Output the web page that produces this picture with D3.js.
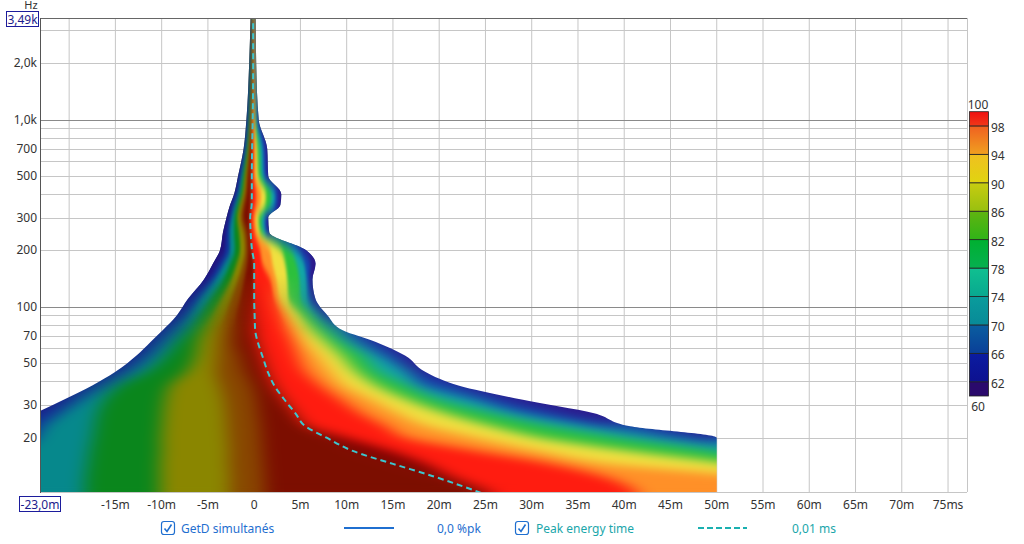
<!DOCTYPE html>
<html>
<head>
<meta charset="utf-8">
<script src="https://cdn.jsdelivr.net/npm/d3@7"></script>
<style>
  body { margin: 0; background: #fff; }
  svg { display: block; font-family: "Noto Sans", "DejaVu Sans", sans-serif; }
</style>
</head>
<body>
<div id="chart"></div>
<script>

// rows of the spectrogram (Hz), top to bottom
var freqs = [3700, 2000, 1000, 700, 500, 400, 350, 300, 250, 200, 170, 140, 110, 90, 75, 65, 55, 45, 38, 32, 27, 23, 20, 17, 14.5, 12.5, 10];

// peak energy time per row (ms)
var peakTime = [-0.11, -0.11, -0.16, -0.22, -0.25, -0.25, -0.27, -0.43, -0.38, -0.22, 0, 0, 0, 0.05, 0.11, 0.38, 0.87, 1.47, 2.17, 3.26, 4.46, 5.54, 7.83, 10.65, 15.0, 19.24, 24.89];

// times (ms) where each colour band starts, on the early side of the peak
var leftPurple = [-0.38, -0.54, -0.84, -1.14, -1.74, -2.17, -2.61, -2.99, -3.37, -3.70, -4.46, -5.43, -7.17, -8.37, -9.89, -11.2, -12.72, -15.0, -17.5, -20.54, -23.7, -27.07, -29.78, -33.04, -36.3, -39.0, -42.28];
var leftBlue   = [-0.33, -0.48, -0.74, -1.03, -1.58, -1.96, -2.37, -2.72, -3.04, -3.15, -3.91, -4.89, -6.63, -7.83, -9.35, -10.65, -12.17, -14.46, -16.96, -19.89, -22.83, -25.87, -28.15, -30.87, -33.59, -36.3, -39.57];
var leftTeal   = [-0.29, -0.41, -0.65, -0.91, -1.41, -1.74, -2.12, -2.45, -2.66, -2.61, -3.26, -4.24, -5.87, -7.07, -8.48, -9.78, -11.2, -13.48, -16.09, -18.7, -20.87, -22.72, -23.48, -25.43, -27.07, -28.7, -30.87];
var leftGreen  = [-0.26, -0.35, -0.55, -0.79, -1.22, -1.5, -1.85, -2.14, -2.17, -2.07, -2.61, -3.37, -4.78, -5.98, -7.17, -8.37, -9.57, -11.63, -14.57, -16.2, -16.96, -17.28, -17.5, -17.83, -18.04, -18.26, -18.37];
var leftYellow = [-0.22, -0.28, -0.46, -0.67, -1.03, -1.26, -1.58, -1.84, -1.63, -1.52, -1.9, -2.5, -3.59, -4.57, -5.54, -6.09, -6.41, -7.39, -9.13, -9.67, -9.89, -10.0, -10.11, -10.11, -10.22, -10.22, -10.22];
var leftOrange = [-0.18, -0.23, -0.37, -0.54, -0.84, -1.02, -1.3, -1.52, -1.14, -0.98, -1.25, -1.74, -2.5, -3.15, -3.7, -3.91, -4.02, -4.13, -3.7, -3.26, -3.04, -2.93, -2.83, -2.72, -2.72, -2.61, -2.61];
var leftRed    = [-0.15, -0.17, -0.28, -0.41, -0.65, -0.79, -1.03, -1.2, -0.76, -0.65, -0.76, -1.09, -1.52, -1.96, -2.07, -2.07, -1.52, -0.98, -0.22, 0.22, 0.43, 0.65, 0.76, 0.87, 0.98, 1.09, 1.2];

// times (ms) where each colour band ends, on the late side of the peak
var rightMaroon = [-0.11, -0.11, -0.16, -0.22, -0.25, -0.25, -0.27, -0.43, -0.38, -0.22, 0, 0, 0, 0.05, 0.11, 0.38, 0.87, 1.47, 2.17, 3.26, 4.46, 5.87, 9.89, 14.78, 18.6, 21.2, 26.4];
var rightRed    = [-0.07, -0.05, -0.08, -0.05, -0.05, 0.22, 0.16, -0.11, 0, 0.65, 0.87, 1.74, 2.17, 2.93, 3.59, 4.13, 4.67, 5.54, 7.17, 9.35, 11.52, 14.24, 16.41, 24.02, 32.17, 37.61, 41.96];
var rightOrange = [-0.02, 0, 0, 0.11, 0.16, 0.76, 0.65, 0.16, 0.33, 1.74, 1.96, 2.39, 2.72, 3.7, 4.67, 5.54, 6.85, 8.26, 9.67, 12.61, 15.43, 18.7, 23.91, 30.65, 38.37, 52.28, 59.35];
var rightYellow = [0.01, 0.04, 0.09, 0.33, 0.43, 1.3, 1.2, 0.43, 0.6, 2.93, 3.37, 3.59, 3.7, 5.0, 6.3, 7.72, 9.35, 10.98, 13.15, 16.52, 20.65, 25.65, 30.87, 40.54, 51.74, 59.35, 61.52];
var rightGreen  = [0.04, 0.09, 0.17, 0.6, 0.76, 1.85, 1.74, 0.76, 0.92, 3.91, 4.57, 4.89, 5.0, 6.3, 7.93, 9.57, 11.74, 13.37, 16.41, 19.89, 25.54, 31.96, 39.35, 49.46, 57.17, 61.52, 63.7];
var rightTeal   = [0.08, 0.13, 0.28, 0.92, 1.03, 2.28, 2.17, 1.09, 1.2, 4.57, 5.43, 5.65, 5.76, 6.96, 8.8, 10.98, 13.7, 16.52, 18.26, 23.7, 28.91, 36.63, 44.46, 55.0, 59.35, 63.7, 65.87];
var rightBlue   = [0.11, 0.17, 0.37, 1.2, 1.3, 2.61, 2.5, 1.3, 1.41, 5.11, 6.09, 5.98, 6.2, 7.39, 9.24, 12.17, 15.11, 17.28, 20.87, 26.2, 32.5, 39.57, 47.93, 57.17, 61.52, 65.87, 68.04];
var rightPurple = [0.16, 0.22, 0.49, 1.41, 1.52, 2.93, 2.83, 1.52, 1.63, 5.65, 6.63, 6.3, 6.63, 7.93, 9.57, 13.15, 16.3, 18.48, 22.07, 28.91, 36.74, 40.65, 50, 50, 50, 50, 50];

// band colours: before the peak (darker) and after it
var earlyColors = ['#22127c', '#12329a', '#06888c', '#0a861c', '#8a8600', '#884600', '#7c0e00', '#7c0000'];
var lateColors  = ['#2c1a8c', '#1446b0', '#12a6a6', '#2cc03c', '#f0e040', '#ff9028', '#ff1c10', '#7c0000'];

// axes
var xGrid = [-20, -15, -10, -5, 0, 5, 10, 15, 20, 25, 30, 35, 40, 45, 50, 55, 60, 65, 70, 75];
var xTicks = [-15, -10, -5, 0, 5, 10, 15, 20, 25, 30, 35, 40, 45, 50, 55, 60, 65, 70, 75];
var xTickLabels = ['-15m', '-10m', '-5m', '0', '5m', '10m', '15m', '20m', '25m', '30m', '35m', '40m', '45m', '50m', '55m', '60m', '65m', '70m', '75ms'];
var yGrid = [20, 30, 40, 50, 60, 70, 80, 90, 100, 200, 300, 400, 500, 600, 700, 800, 900, 1000, 2000, 3000];
var yTicks = [20, 30, 50, 70, 100, 200, 300, 500, 700, 1000, 2000];
var yTickLabels = ['20', '30', '50', '70', '100', '200', '300', '500', '700', '1,0k', '2,0k'];

// colour scale legend
var scaleLevels = [60, 62, 66, 70, 74, 78, 82, 86, 90, 94, 98, 100];
var scaleLow  = ['#2a0a6c', '#0d1190', '#0a3f98', '#088a98', '#08a890', '#06b050', '#30b418', '#98c010', '#e0d410', '#f0a020', '#f03818'];
var scaleHigh = ['#2a0a6c', '#0b1ca0', '#0a5ea0', '#0a9c9c', '#10c090', '#00b030', '#60b410', '#c8cc10', '#f0c020', '#f06020', '#f01010'];
var scaleTicks = [98, 94, 90, 86, 82, 78, 74, 70, 66, 62];

var svg = d3.select('#chart').append('svg').attr('width', 1024).attr('height', 544);

var x = d3.scaleLinear().domain([-23.15, 77.05]).range([40, 967]);
var y = d3.scaleLog().domain([10.26, 3490]).range([492, 18]);

var defs = svg.append('defs');

function band( lo, hi ) {
    return d3.area().curve(d3.curveMonotoneY)
        .y(function(d, i) { return y(freqs[i]); })
        .x0(function(d, i) { return typeof lo === 'number' ? x(lo) : x(lo[i]); })
        .x1(function(d, i) { return typeof hi === 'number' ? x(hi) : x(hi[i]); })(freqs);
}

defs.append('clipPath').attr('id', 'plot')
    .append('rect').attr('x', 40).attr('y', 18).attr('width', 927).attr('height', 474);
defs.append('clipPath').attr('id', 'outline')
    .append('path').attr('d', band(leftPurple, rightPurple));
defs.append('clipPath').attr('id', 'early')
    .append('path').attr('d', band(-80, peakTime));
defs.append('clipPath').attr('id', 'late')
    .append('path').attr('d', band(peakTime, 120));

function softFilter( id, dev ) {
    var f = defs.append('filter').attr('id', id)
        .attr('filterUnits', 'userSpaceOnUse')
        .attr('x', 0).attr('y', 0).attr('width', 1024).attr('height', 544)
        .attr('color-interpolation-filters', 'sRGB');
    f.append('feGaussianBlur').attr('stdDeviation', dev);
    f.append('feComponentTransfer').append('feFuncA').attr('type', 'linear').attr('slope', 40).attr('intercept', 0);
}
softFilter('softBig', '9 5');
softFilter('softSmall', '1.6 4');

// fine blur for the narrow upper part, wide blur for the broad low part
var fade = defs.append('linearGradient').attr('id', 'fadeGrad')
    .attr('gradientUnits', 'userSpaceOnUse').attr('x1', 0).attr('x2', 0)
    .attr('y1', y(150)).attr('y2', y(75));
fade.append('stop').attr('offset', 0).attr('stop-color', '#fff');
fade.append('stop').attr('offset', 1).attr('stop-color', '#000');
defs.append('mask').attr('id', 'upper')
    .attr('maskUnits', 'userSpaceOnUse').attr('x', 0).attr('y', 0).attr('width', 1024).attr('height', 544)
    .append('rect').attr('x', 0).attr('y', 0).attr('width', 1024).attr('height', 544)
    .style('fill', 'url(#fadeGrad)');

// grid
var grid = svg.append('g');
grid.selectAll('.vg').data(xGrid).enter().append('line')
    .attr('x1', function(d) { return x(d); }).attr('x2', function(d) { return x(d); })
    .attr('y1', 18).attr('y2', 492)
    .style('stroke', '#c6c6c6').style('stroke-width', 1);
grid.selectAll('.hg').data(yGrid).enter().append('line')
    .attr('x1', 40).attr('x2', 967)
    .attr('y1', function(d) { return Math.round(y(d)) + 0.5; })
    .attr('y2', function(d) { return Math.round(y(d)) + 0.5; })
    .style('stroke', function(d) { return (d === 100 || d === 1000) ? '#8a8a8a' : '#c6c6c6'; })
    .style('stroke-width', 1);
grid.append('line').attr('x1', 967.5).attr('x2', 967.5).attr('y1', 18).attr('y2', 492).style('stroke', '#c6c6c6');
grid.append('line').attr('x1', 40).attr('x2', 967).attr('y1', 492.5).attr('y2', 492.5).style('stroke', '#c6c6c6');

// spectrogram
var bands = [
    [leftPurple, rightPurple],
    [leftBlue, rightBlue],
    [leftTeal, rightTeal],
    [leftGreen, rightGreen],
    [leftYellow, rightYellow],
    [leftOrange, rightOrange],
    [leftRed, rightRed],
    [peakTime, rightMaroon]
];

function drawField( parent ) {
    parent.append('g').attr('clip-path', 'url(#early)')
        .selectAll('path').data(bands).enter().append('path')
        .attr('d', function(d) { return band(d[0], d[1]); })
        .style('fill', function(d, i) { return earlyColors[i]; });
    parent.append('g').attr('clip-path', 'url(#late)')
        .selectAll('path').data(bands).enter().append('path')
        .attr('d', function(d) { return band(d[0], d[1]); })
        .style('fill', function(d, i) { return lateColors[i]; });
}

var field = svg.append('g').attr('clip-path', 'url(#plot)')
    .append('g').attr('clip-path', 'url(#outline)');
drawField(field.append('g').attr('filter', 'url(#softBig)'));
drawField(field.append('g').attr('mask', 'url(#upper)').append('g').attr('filter', 'url(#softSmall)'));

// peak energy time
var peakLine = d3.line().curve(d3.curveMonotoneY)
    .x(function(d) { return x(d); })
    .y(function(d, i) { return y(freqs[i]); });
svg.append('g').attr('clip-path', 'url(#plot)')
    .append('path').attr('d', peakLine(peakTime))
    .style('fill', 'none').style('stroke', '#3cc6cf').style('stroke-width', 2)
    .style('stroke-dasharray', '6,4');

// frame
svg.append('line').attr('x1', 40).attr('x2', 967).attr('y1', 18.5).attr('y2', 18.5).style('stroke', '#666');
svg.append('line').attr('x1', 40.5).attr('x2', 40.5).attr('y1', 18).attr('y2', 493).style('stroke', '#555');

// axis labels
svg.selectAll('.xl').data(xTicks).enter().append('text')
    .attr('x', function(d) { return x(d); }).attr('y', 509)
    .attr('text-anchor', 'middle').attr('font-size', '12px').style('fill', '#333')
    .text(function(d, i) { return xTickLabels[i]; });
svg.selectAll('.yl').data(yTicks).enter().append('text')
    .attr('x', 37).attr('y', function(d) { return y(d) + 4; })
    .attr('text-anchor', 'end').attr('font-size', '12px').style('fill', '#333')
    .text(function(d, i) { return yTickLabels[i]; });
svg.append('text').attr('x', 31).attr('y', 9).attr('text-anchor', 'middle')
    .attr('font-size', '11px').style('fill', '#333').text('Hz');

svg.append('rect').attr('x', 6.5).attr('y', 11.5).attr('width', 32).attr('height', 15)
    .style('fill', '#fff').style('stroke', '#1c1c9c');
svg.append('text').attr('x', 22.5).attr('y', 23.5).attr('text-anchor', 'middle')
    .attr('font-size', '12px').style('fill', '#1c1c8c').text('3,49k');
svg.append('rect').attr('x', 19.5).attr('y', 496.5).attr('width', 41).attr('height', 15)
    .style('fill', '#fff').style('stroke', '#1c1c9c');
svg.append('text').attr('x', 40).attr('y', 508.5).attr('text-anchor', 'middle')
    .attr('font-size', '12px').style('fill', '#1c1c8c').text('-23,0m');

// colour scale
var yc = d3.scaleLinear().domain([60, 100]).range([396, 111.7]);
var scaleBands = d3.range(scaleLevels.length - 1);
scaleBands.forEach(function(i) {
    var g = defs.append('linearGradient').attr('id', 'cb' + i)
        .attr('x1', 0).attr('x2', 0).attr('y1', 1).attr('y2', 0);
    g.append('stop').attr('offset', 0).attr('stop-color', scaleLow[i]);
    g.append('stop').attr('offset', 1).attr('stop-color', scaleHigh[i]);
});
svg.selectAll('.cb').data(scaleBands).enter().append('rect')
    .attr('x', 969.5).attr('width', 19)
    .attr('y', function(i) { return yc(scaleLevels[i + 1]); })
    .attr('height', function(i) { return yc(scaleLevels[i]) - yc(scaleLevels[i + 1]); })
    .style('fill', function(i) { return 'url(#cb' + i + ')'; })
    .style('stroke', '#222').style('stroke-width', 0.8);
svg.selectAll('.ct').data(scaleTicks).enter().append('text')
    .attr('x', 991).attr('y', function(d) { return yc(d) + 6; })
    .attr('font-size', '12px').style('fill', '#333')
    .text(function(d) { return d; });
svg.append('text').attr('x', 978).attr('y', 109).attr('text-anchor', 'middle')
    .attr('font-size', '12px').style('fill', '#333').text('100');
svg.append('text').attr('x', 978).attr('y', 411).attr('text-anchor', 'middle')
    .attr('font-size', '12px').style('fill', '#333').text('60');

// legend
function checkbox( x0 ) {
    svg.append('rect').attr('x', x0 + 0.5).attr('y', 521.5).attr('width', 13).attr('height', 13)
        .attr('rx', 2.5).style('fill', '#fff').style('stroke', '#1f6fd0').style('stroke-width', 1.2);
    svg.append('path').attr('d', 'M' + (x0 + 3.5) + ',528.5 L' + (x0 + 6) + ',531.5 L' + (x0 + 10.5) + ',524.5')
        .style('fill', 'none').style('stroke', '#1f6fd0').style('stroke-width', 1.6);
}
checkbox(161);
svg.append('text').attr('x', 181).attr('y', 532.5).attr('font-size', '12px')
    .style('fill', '#1f6fd0').text('GetD simultanés');
svg.append('line').attr('x1', 344).attr('x2', 394).attr('y1', 528).attr('y2', 528)
    .style('stroke', '#1f6fd0').style('stroke-width', 2);
svg.append('text').attr('x', 437).attr('y', 532.5).attr('font-size', '12px')
    .style('fill', '#1f6fd0').text('0,0 %pk');
checkbox(515);
svg.append('text').attr('x', 536).attr('y', 532.5).attr('font-size', '12px')
    .style('fill', '#1aa6aa').text('Peak energy time');
svg.append('line').attr('x1', 698).attr('x2', 747).attr('y1', 528).attr('y2', 528)
    .style('stroke', '#1ab0b0').style('stroke-width', 2).style('stroke-dasharray', '6,3');
svg.append('text').attr('x', 792).attr('y', 532.5).attr('font-size', '12px')
    .style('fill', '#1aa6aa').text('0,01 ms');

</script>
</body>
</html>
